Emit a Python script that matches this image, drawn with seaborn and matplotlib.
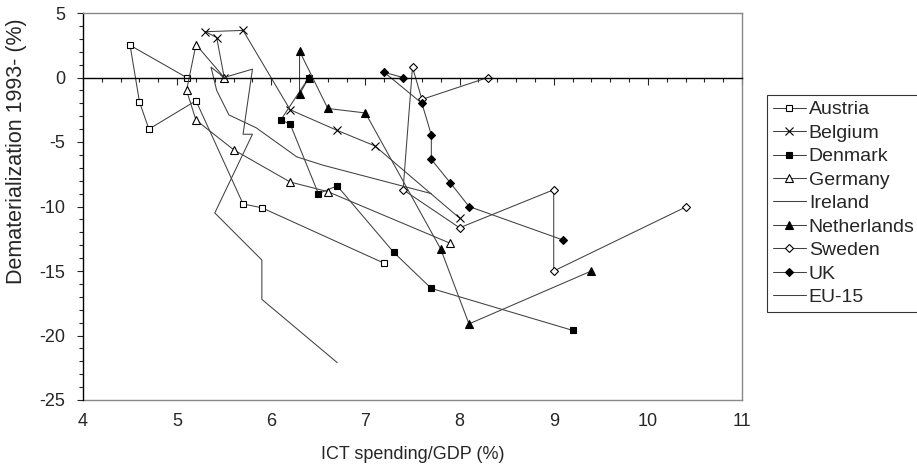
import matplotlib
matplotlib.use("Agg")
import matplotlib.pyplot as plt
from matplotlib.ticker import MultipleLocator, NullFormatter
import seaborn as sns

# ICT spending/GDP (%) vs dematerialization since 1993 (%), one point per year
austria_ict = [5.1, 4.5, 4.6, 4.7, 5.2, 5.7, 5.9, 7.2]
austria_dem = [0.0, 2.5, -1.9, -4.0, -1.8, -9.8, -10.1, -14.4]

belgium_ict = [5.5, 5.42, 5.3, 5.7, 6.2, 6.7, 7.1, 8.0]
belgium_dem = [0.0, 3.1, 3.55, 3.65, -2.5, -4.1, -5.3, -10.9]

denmark_ict = [6.4, 6.1, 6.2, 6.5, 6.7, 7.3, 7.7, 9.2]
denmark_dem = [0.0, -3.3, -3.6, -9.0, -8.4, -13.55, -16.35, -19.6]

germany_ict = [5.5, 5.2, 5.1, 5.2, 5.6, 6.2, 6.6, 7.9]
germany_dem = [0.0, 2.55, -1.0, -3.3, -5.6, -8.1, -8.85, -12.85]

ireland_ict = [5.5, 5.8, 5.7, 5.8, 5.4, 5.9, 5.9, 6.7]
ireland_dem = [0.0, 0.65, -4.4, -4.4, -10.5, -14.15, -17.2, -22.1]

netherlands_ict = [6.4, 6.3, 6.3, 6.6, 7.0, 7.8, 8.1, 9.4]
netherlands_dem = [0.0, -1.3, 2.05, -2.4, -2.75, -13.3, -19.1, -15.0]

sweden_ict = [8.3, 7.6, 7.5, 7.4, 8.0, 9.0, 9.0, 10.4]
sweden_dem = [0.0, -1.7, 0.8, -8.7, -11.65, -8.7, -15.0, -10.05]

uk_ict = [7.4, 7.2, 7.6, 7.7, 7.7, 7.9, 8.1, 9.1]
uk_dem = [0.0, 0.4, -2.0, -4.45, -6.35, -8.15, -10.0, -12.6]

eu15_ict = [5.5, 5.36, 5.42, 5.55, 5.84, 6.27, 6.55, 7.7]
eu15_dem = [0.0, 0.8, -1.0, -2.9, -3.9, -6.15, -6.8, -9.0]

countries = ["Austria", "Belgium", "Denmark", "Germany", "Ireland",
             "Netherlands", "Sweden", "UK", "EU-15"]
series = {
    "Austria": (austria_ict, austria_dem),
    "Belgium": (belgium_ict, belgium_dem),
    "Denmark": (denmark_ict, denmark_dem),
    "Germany": (germany_ict, germany_dem),
    "Ireland": (ireland_ict, ireland_dem),
    "Netherlands": (netherlands_ict, netherlands_dem),
    "Sweden": (sweden_ict, sweden_dem),
    "UK": (uk_ict, uk_dem),
    "EU-15": (eu15_ict, eu15_dem),
}

# marker, size, face colour
styles = {
    "Austria": ("s", 4, "white"),
    "Belgium": ("x", 5.5, "black"),
    "Denmark": ("s", 5, "black"),
    "Germany": ("^", 5.5, "white"),
    "Ireland": (None, 0, "black"),
    "Netherlands": ("^", 5.5, "black"),
    "Sweden": ("D", 4, "white"),
    "UK": ("D", 4, "black"),
    "EU-15": (None, 0, "black"),
}

sns.set_style("white")
plt.rcParams["font.family"] = ["Liberation Sans", "DejaVu Sans"]
plt.rcParams["axes.unicode_minus"] = False

fig = plt.figure(figsize=(9.17, 4.68), dpi=100)
ax = fig.add_axes([83 / 917, 1 - 400 / 468, (742 - 83) / 917, (400 - 13) / 468])

for c in countries:
    xs, ys = series[c]
    mk, ms, fc = styles[c]
    kw = dict(color="#404040", linewidth=0.75)
    if mk:
        kw.update(marker=mk, markersize=ms, markerfacecolor=fc,
                  markeredgecolor="black", markeredgewidth=0.8)
    sns.lineplot(x=xs, y=ys, sort=False, estimator=None, ax=ax, label=c, **kw)

ax.set_xlim(4, 11)
ax.set_ylim(-25, 5)

# horizontal axis crosses at zero, ticks pointing down, no labels there
ax.spines["bottom"].set_position(("data", 0))
ax.spines["bottom"].set_color("black")
ax.spines["bottom"].set_linewidth(1.0)
ax.xaxis.set_major_locator(MultipleLocator(1))
ax.xaxis.set_minor_locator(MultipleLocator(0.2))
ax.xaxis.set_major_formatter(NullFormatter())
ax.tick_params(axis="x", which="major", direction="out", length=5, width=0.8,
               bottom=True, labelbottom=False)
ax.tick_params(axis="x", which="minor", direction="out", length=3, width=0.8, bottom=True)

ax.yaxis.set_major_locator(MultipleLocator(5))
ax.yaxis.set_minor_locator(MultipleLocator(1))
ax.tick_params(axis="y", which="major", direction="out", length=4, width=0.8,
               labelsize=13, left=True, pad=9)
ax.tick_params(axis="y", which="minor", direction="out", length=3, width=0.8, left=True)

for side in ["top", "right"]:
    ax.spines[side].set_color("#888888")
    ax.spines[side].set_linewidth(1.0)
ax.spines["left"].set_color("black")
ax.spines["left"].set_linewidth(1.0)

# bottom frame of the plot area carries the x tick labels
frame_x = ax.secondary_xaxis("bottom")
frame_x.xaxis.set_major_locator(MultipleLocator(1))
frame_x.tick_params(length=0, labelsize=13, pad=9)
frame_x.spines["bottom"].set_color("#888888")
frame_x.spines["bottom"].set_linewidth(1.0)
frame_x.set_xlabel("ICT spending/GDP (%)", fontsize=13, labelpad=12)

ax.set_ylabel("Dematerialization 1993- (%)", fontsize=15.5)
ax.yaxis.set_label_coords(-0.085, 0.643)

handles = ax.get_lines()[:len(countries)]
leg = ax.legend(handles, countries, loc="upper left",
                bbox_to_anchor=(767 / 917, 1 - 95 / 468), bbox_transform=fig.transFigure,
                frameon=True, fancybox=False, fontsize=14, handlelength=1.7,
                handletextpad=0.15, labelspacing=0.30, borderpad=0.3,
                borderaxespad=0)
leg.get_frame().set_edgecolor("black")
leg.get_frame().set_linewidth(0.8)

fig.savefig("out.png", dpi=100)
